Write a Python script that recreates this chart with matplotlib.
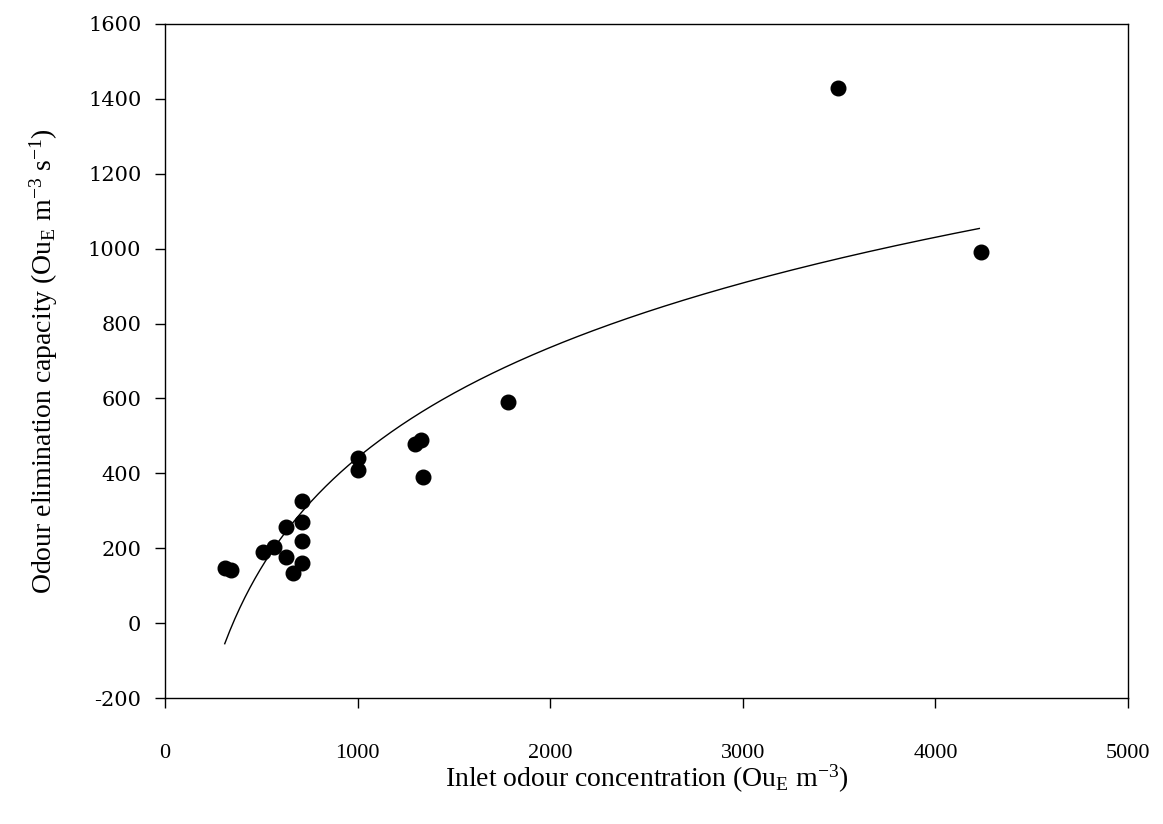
import matplotlib
matplotlib.use('Agg')
import matplotlib.pyplot as plt
import numpy as np

plt.rcParams['font.family'] = 'Liberation Serif'
plt.rcParams['mathtext.fontset'] = 'custom'
plt.rcParams['mathtext.rm'] = 'Liberation Serif'
plt.rcParams['mathtext.it'] = 'Liberation Serif:italic'

# inlet odour concentration (OuE m-3) and elimination capacity (OuE m-3 s-1)
inlet = [310, 340, 510, 566, 628, 628, 666, 713, 713, 713, 713,
         1000, 1000, 1300, 1330, 1337, 1783, 3496, 4235]
capacity = [146, 142, 191, 204, 257, 177, 133, 161, 219, 271, 327,
            440, 410, 478, 488, 391, 590, 1428, 990]

# logarithmic trend line y = a*ln(x) + b, coefficients
trend_a = 424.4
trend_b = -2489.6

x_ticks = [0, 1000, 2000, 3000, 4000, 5000]
y_ticks = [-200, 0, 200, 400, 600, 800, 1000, 1200, 1400, 1600]

fig = plt.figure(figsize=(11.63, 8.24), dpi=100)
ax = fig.add_axes([0.1419, 0.1529, 0.828, 0.818])

xt = np.linspace(min(inlet), 4228, 300)
ax.plot(xt, trend_a * np.log(xt) + trend_b, color='black', lw=1.0)
ax.plot(inlet, capacity, 'o', color='black', markersize=10.5)

ax.set_xlim(0, 5000)
ax.set_ylim(-200, 1600)
ax.set_xticks(x_ticks)
ax.set_yticks(y_ticks)
ax.set_xticklabels([str(v) for v in x_ticks], fontsize=16)
ax.set_yticklabels([str(v) for v in y_ticks], fontsize=15, family='DejaVu Serif')
ax.tick_params(direction='out', length=7, width=1, colors='black')
ax.tick_params(axis='y', pad=10)
ax.tick_params(axis='x', pad=26)
for s in ax.spines.values():
    s.set_linewidth(1)

ax.set_xlabel(r'Inlet odour concentration (Ou$_{\mathrm{E}}$ m$^{\mathrm{-3}}$)',
              fontsize=20, labelpad=0)
ax.set_ylabel(r'Odour elimination capacity (Ou$_{\mathrm{E}}$ m$^{\mathrm{-3}}$ s$^{\mathrm{-1}}$)',
              fontsize=20, labelpad=20)

fig.savefig('out.png', dpi=100)
